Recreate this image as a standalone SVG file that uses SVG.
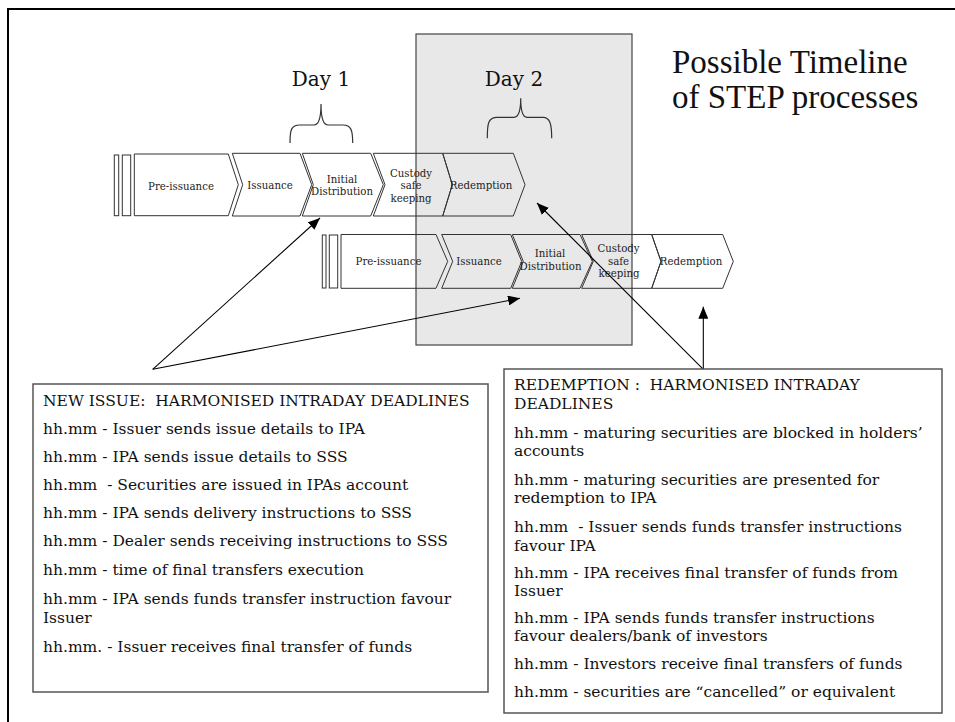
<svg xmlns="http://www.w3.org/2000/svg" width="955" height="722" viewBox="0 0 955 722">
<style>
.frame{fill:none;stroke:#000;stroke-width:2}
.day{fill:#e8e8e8;stroke:#444;stroke-width:1.2}
.chev{fill:none;stroke:#333;stroke-width:1}
.lbl{font-family:"DejaVu Serif","Liberation Serif",serif;font-size:10.2px;fill:#222;text-anchor:middle}
.brace{fill:none;stroke:#333;stroke-width:1.2}
.dayt{font-family:"DejaVu Serif","Liberation Serif",serif;font-size:20px;fill:#111;text-anchor:middle}
.title{font-family:"Liberation Serif","DejaVu Serif",serif;font-size:33px;fill:#111}
.box{fill:#fff;stroke:#555;stroke-width:1.5}
.bt{font-family:"DejaVu Serif","Liberation Serif",serif;font-size:15.5px;fill:#111;white-space:pre}
.conn{fill:none;stroke:#000;stroke-width:1.1}
</style>
<defs>
<marker id="ah" viewBox="0 0 12 10" refX="12" refY="5" markerWidth="12" markerHeight="10" markerUnits="userSpaceOnUse" orient="auto">
<path d="M0,0 L12,5 L0,10 Z" fill="#000"/>
</marker>
</defs>
<rect width="955" height="722" fill="#fff"/>
<path class="frame" d="M8,722 L8,9 L955,9"/>

<g id="day2-zone"><rect class="day" x="416" y="34" width="216" height="311"/></g>

<g id="title">
<text class="title" x="672" y="73">Possible Timeline</text>
<text class="title" x="672" y="108">of STEP processes</text>
</g>

<g id="day1">
<text class="dayt" x="321" y="86">Day 1</text>
<path class="brace" d="M290,143 C290,130 291,125 300,125 L314,125 C319,125 321,118 321,104 C321,118 323,125 328,125 L343,125 C351,125 352.7,130 352.7,143"/>
</g>
<g id="day2">
<text class="dayt" x="514" y="86">Day 2</text>
<path class="brace" d="M487.3,138.3 C487.3,124 488,117.3 497,117.3 L514,117.3 C519,117.3 520.7,110 520.7,98.3 C520.7,110 522.5,117.3 527,117.3 L543,117.3 C550,117.3 551.7,124 551.7,138.3"/>
</g>

<g id="row1">
<g id="r1-bars"><rect class="chev" x="114.3" y="155" width="4.4" height="60.7"/><rect class="chev" x="122.3" y="155" width="8.4" height="60.7"/></g>
<g id="r1-preissuance"><path class="chev" d="M134.3,154 L228.3,154 L238.3,184.7 L228.3,215.7 L134.3,215.7 Z"/><text class="lbl" x="181" y="190">Pre-issuance</text></g>
<g id="r1-issuance"><path class="chev" d="M232.3,153.3 L300,153.3 L311.7,184.7 L300,216 L232.3,216 L242.7,184.7 Z"/><text class="lbl" x="270" y="188.5">Issuance</text></g>
<g id="r1-initial"><path class="chev" d="M302.3,153.3 L370.7,153.3 L383.3,184.7 L370.7,216 L302.3,216 L313.3,184.7 Z"/><text class="lbl" x="342" y="183.3">Initial</text><text class="lbl" x="342" y="194.7">Distribution</text></g>
<g id="r1-custody"><path class="chev" d="M373.3,153.3 L442.7,153.3 L452.3,184.7 L442.7,216 L373.3,216 L385,184.7 Z"/><text class="lbl" x="411" y="176.7">Custody</text><text class="lbl" x="411" y="189.3">safe</text><text class="lbl" x="411" y="201.7">keeping</text></g>
<g id="r1-redemption"><path class="chev" d="M442.7,153.3 L513.3,153.3 L525,184.7 L513.3,216 L442.7,216 L452.3,184.7 Z"/><text class="lbl" x="481" y="188.5">Redemption</text></g>
</g>

<g id="row2">
<g id="r2-bars"><rect class="chev" x="322.3" y="235" width="3.7" height="53"/><rect class="chev" x="329.3" y="235" width="8.4" height="53"/></g>
<g id="r2-preissuance"><path class="chev" d="M341,234.5 L436,234.5 L447.7,261.4 L436,288.3 L341,288.3 Z"/><text class="lbl" x="388.5" y="265">Pre-issuance</text></g>
<g id="r2-issuance"><path class="chev" d="M441.7,234.5 L510.7,234.5 L521.7,261.4 L510.7,288.3 L441.7,288.3 L452.7,261.4 Z"/><text class="lbl" x="479" y="265">Issuance</text></g>
<g id="r2-initial"><path class="chev" d="M512.3,234.5 L580,234.5 L592.3,261.4 L580,288.3 L512.3,288.3 L523.3,261.4 Z"/><text class="lbl" x="550" y="257.3">Initial</text><text class="lbl" x="550.5" y="270">Distribution</text></g>
<g id="r2-custody"><path class="chev" d="M581.7,234.5 L651.7,234.5 L661,261.4 L651.7,288.3 L581.7,288.3 L593.3,261.4 Z"/><text class="lbl" x="618.5" y="252">Custody</text><text class="lbl" x="618.5" y="264.5">safe</text><text class="lbl" x="619" y="277">keeping</text></g>
<g id="r2-redemption"><path class="chev" d="M651.7,234.5 L722.7,234.5 L733.3,261.4 L722.7,288.3 L651.7,288.3 L661,261.4 Z"/><text class="lbl" x="691" y="265">Redemption</text></g>
</g>

<g id="connectors">
<line class="conn" x1="152.7" y1="369.3" x2="320" y2="218" marker-end="url(#ah)"/>
<line class="conn" x1="152.7" y1="369.3" x2="520" y2="298.3" marker-end="url(#ah)"/>
<line class="conn" x1="703.3" y1="369.3" x2="703.3" y2="306.7" marker-end="url(#ah)"/>
<line class="conn" x1="703.3" y1="369.3" x2="537" y2="203" marker-end="url(#ah)"/>
</g>

<g id="new-issue-box">
<rect class="box" x="33" y="384" width="455" height="308"/>
<text class="bt" x="43" y="406">NEW ISSUE:  HARMONISED INTRADAY DEADLINES</text>
<text class="bt" x="43" y="434">hh.mm - Issuer sends issue details to IPA</text>
<text class="bt" x="43" y="462">hh.mm - IPA sends issue details to SSS</text>
<text class="bt" x="43" y="490">hh.mm  - Securities are issued in IPAs account</text>
<text class="bt" x="43" y="518">hh.mm - IPA sends delivery instructions to SSS</text>
<text class="bt" x="43" y="546">hh.mm - Dealer sends receiving instructions to SSS</text>
<text class="bt" x="43" y="575">hh.mm - time of final transfers execution</text>
<text class="bt" x="43" y="604">hh.mm - IPA sends funds transfer instruction favour</text>
<text class="bt" x="43" y="623">Issuer</text>
<text class="bt" x="43" y="652">hh.mm. - Issuer receives final transfer of funds</text>
</g>

<g id="redemption-box">
<rect class="box" x="504" y="369" width="438" height="344"/>
<text class="bt" x="514" y="390">REDEMPTION :  HARMONISED INTRADAY</text>
<text class="bt" x="514" y="409">DEADLINES</text>
<text class="bt" x="514" y="437.5">hh.mm - maturing securities are blocked in holders’</text>
<text class="bt" x="514" y="456">accounts</text>
<text class="bt" x="514" y="484.5">hh.mm - maturing securities are presented for</text>
<text class="bt" x="514" y="503">redemption to IPA</text>
<text class="bt" x="514" y="532">hh.mm  - Issuer sends funds transfer instructions</text>
<text class="bt" x="514" y="550.5">favour IPA</text>
<text class="bt" x="514" y="577.5">hh.mm - IPA receives final transfer of funds from</text>
<text class="bt" x="514" y="595.5">Issuer</text>
<text class="bt" x="514" y="622.5">hh.mm - IPA sends funds transfer instructions</text>
<text class="bt" x="514" y="641">favour dealers/bank of investors</text>
<text class="bt" x="514" y="669">hh.mm - Investors receive final transfers of funds</text>
<text class="bt" x="514" y="697">hh.mm - securities are “cancelled” or equivalent</text>
</g>
</svg>
